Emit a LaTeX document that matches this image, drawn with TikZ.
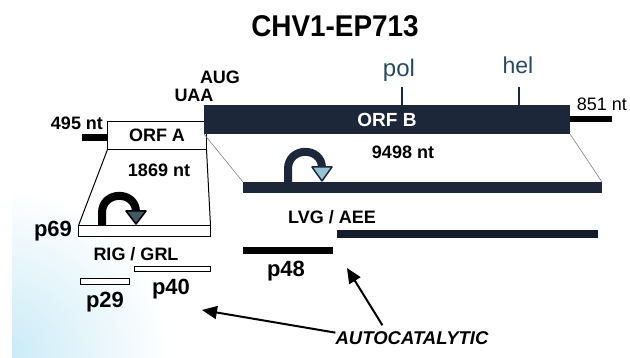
\documentclass[tikz,border=0pt]{standalone}
\usepackage{fontspec}
\setmainfont{Liberation Sans}
\usetikzlibrary{arrows.meta}

\definecolor{navy}{RGB}{28,40,58}
\definecolor{slate}{RGB}{40,72,98}
\definecolor{tipblue}{RGB}{150,195,212}
\definecolor{scanblue}{RGB}{200,234,246}

\newcommand{\fsz}[1]{\fontsize{#1}{#1}\selectfont}

\begin{document}
\begin{tikzpicture}[x=1pt, y=-1pt,
    lbl/.style={inner sep=0pt, font=\fsz{18}\bfseries},
    plbl/.style={inner sep=0pt, font=\fsz{22}\bfseries},
    seg/.style={inner sep=0pt, outer sep=0pt},
    tick/.style={line width=1.3pt, navy},
    loopline/.style={line width=8pt},
    loophead/.style={fill=tipblue, line width=1.5pt, line join=round},
    autoarrow/.style={line width=2pt, -{Triangle[length=15pt, width=13pt]}}]
    \useasboundingbox (0,0) rectangle (630,358);
    % faint scan tint in the lower left corner
    \begin{scope}
        \clip (12,0) rectangle (630,358);
        \shade[inner color=scanblue, outer color=white] (0,358) circle (170pt);
    \end{scope}

    \node[inner sep=0pt, font=\fsz{30}\bfseries] (title) at (335,26) {\scalebox{0.93}[1]{CHV1-EP713}};

    % genome
    \node[seg, fill=black, minimum width=25pt, minimum height=7pt] (utr5) at (94.5,137.5) {};
    \node[seg, draw, line width=1.5pt, fill=white, minimum width=99pt, minimum height=28pt,
          font=\fsz{18}\bfseries] (orfA) at (157,135.5) {ORF A};
    \node[seg, fill=navy, text=white, minimum width=366pt, minimum height=29pt,
          font=\fsz{19}\bfseries] (orfB) at (387,119.5) {ORF B};
    \node[seg, fill=black, minimum width=42pt, minimum height=6pt] (utr3) at (591,119) {};

    \node[lbl] (nt495) at (77,123.5) {495 nt};
    \node[lbl] (aug) at (220,77) {AUG};
    \node[lbl] (uaa) at (194,95) {UAA};
    \node[inner sep=0pt, font=\fsz{18}] (nt851) at (602,104) {851 nt};
    \node[lbl] (nt9498) at (403,152) {9498 nt};
    \node[lbl] (nt1869) at (159,170) {1869 nt};

    \coordinate (poltick) at (402,87);
    \coordinate (heltick) at (519,87);
    \draw[tick] (poltick) -- (poltick |- orfB.north);
    \draw[tick] (heltick) -- (heltick |- orfB.north);
    \node[anchor=base, inner sep=0pt, text=slate, font=\fsz{24}] (pol) at (399,77) {pol};
    \node[anchor=base, inner sep=0pt, text=slate, font=\fsz{23}] (hel) at (518,74) {hel};

    % products
    \node[seg, draw, line width=1.2pt, fill=white, minimum width=132pt, minimum height=11pt] (p69bar) at (144.5,231) {};
    \node[seg, fill=navy, minimum width=359pt, minimum height=11pt] (lvgbar) at (422.5,187.5) {};
    \node[seg, fill=black, minimum width=90pt, minimum height=7pt] (p48bar) at (288,250.5) {};
    \node[seg, fill=navy!70!black, minimum width=261pt, minimum height=8pt] (aeebar) at (467.5,234) {};
    \node[seg, draw, line width=1.2pt, fill=white, minimum width=76pt, minimum height=5pt] (p40bar) at (172.5,269) {};
    \node[seg, draw, line width=1.2pt, fill=white, minimum width=49pt, minimum height=6pt] (p29bar) at (105,281.5) {};

    \draw[line width=1pt] (orfA.south west) -- (p69bar.north west);
    \draw[line width=1pt] (orfA.south east) -- (p69bar.north east);
    \draw[gray, line width=0.6pt] (orfB.south west) -- (lvgbar.north west);
    \draw[gray, line width=0.6pt] (orfB.south east) -- (lvgbar.north east);

    % self cleavage loops
    \draw[loopline, black] (102,225) -- (102,213) .. controls (102,190.3) and (136,190.3) .. (136,212);
    \filldraw[loophead, fill=tipblue!45!black, draw=black] (126,211) -- (146,211) -- (136,224) -- cycle;
    \draw[loopline, navy] (288,182) -- (288,169) .. controls (288,146.3) and (322,146.3) .. (322,168);
    \filldraw[loophead, draw=navy] (312,167) -- (332,167) -- (322,181) -- cycle;

    \node[plbl] (p69) at (53,231) {p69};
    \node[lbl] (rig) at (136,254) {RIG / GRL};
    \node[plbl] (p40) at (171,289) {p40};
    \node[plbl] (p29) at (105,302) {p29};
    \node[plbl] (p48) at (286,271) {p48};
    \node[lbl] (lvg) at (332,217) {LVG / AEE};
    \node[inner sep=0pt, font=\fsz{18.5}\bfseries\itshape] (auto) at (412,338) {AUTOCATALYTIC};

    \coordinate (tipA) at (202,310);
    \coordinate (tipB) at (347,268);
    \draw[autoarrow] (auto.176) -- (tipA);
    \draw[autoarrow] ([xshift=47pt, yshift=6pt]auto.north west) -- (tipB);
\end{tikzpicture}
\end{document}
